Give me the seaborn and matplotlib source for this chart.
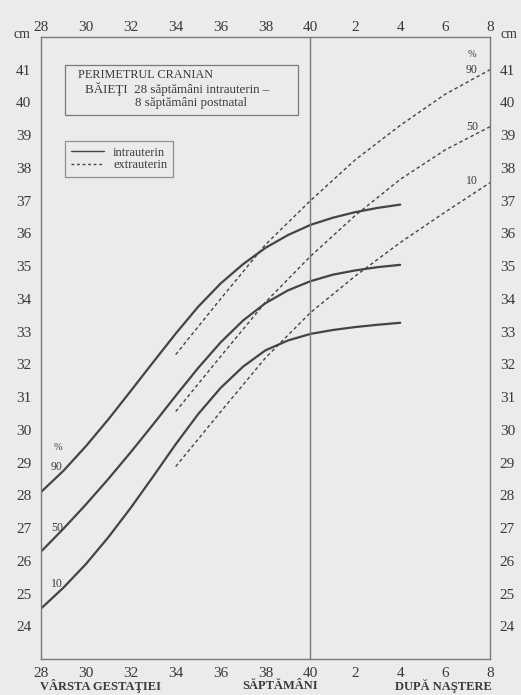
import numpy as np
import pandas as pd
import seaborn as sns
import matplotlib
matplotlib.use("Agg")
import matplotlib.pyplot as plt
from matplotlib.patches import Rectangle
from matplotlib.lines import Line2D

# ---------------- data ----------------
weeks_intra = [28, 29, 30, 31, 32, 33, 34, 35, 36, 37, 38, 39, 40, 41, 42, 43, 44]
p90_intra = [28.1, 28.75, 29.5, 30.32, 31.19, 32.07, 32.94, 33.76, 34.47, 35.06, 35.56, 35.95, 36.26, 36.48, 36.65, 36.78, 36.88]
p50_intra = [26.28, 26.98, 27.72, 28.5, 29.32, 30.17, 31.04, 31.89, 32.67, 33.34, 33.87, 34.26, 34.54, 34.74, 34.87, 34.97, 35.04]
p10_intra = [24.54, 25.18, 25.9, 26.72, 27.62, 28.58, 29.56, 30.48, 31.28, 31.93, 32.43, 32.73, 32.93, 33.05, 33.14, 33.21, 33.27]

weeks_extra = [34, 36, 38, 40, 42, 44, 46, 48]
p90_extra = [32.3, 34.0, 35.66, 37.0, 38.25, 39.3, 40.25, 41.0]
p50_extra = [30.56, 32.24, 33.9, 35.3, 36.55, 37.65, 38.55, 39.26]
p10_extra = [28.88, 30.55, 32.2, 33.58, 34.7, 35.72, 36.65, 37.55]

x_ticks = [28, 30, 32, 34, 36, 38, 40, 42, 44, 46, 48]
x_ticklabels = ["28", "30", "32", "34", "36", "38", "40", "2", "4", "6", "8"]
y_ticks = list(range(24, 42))

title_lines = ["PERIMETRUL CRANIAN",
               "BĂIEŢI  28 săptămâni intrauterin –",
               "8 săptămâni postnatal"]
legend_labels = ["intrauterin", "extrauterin"]
bottom_labels = ["VÂRSTA GESTAŢIEI", "SĂPTĂMÂNI", "DUPĂ NAŞTERE"]
pct_labels = ["90", "50", "10"]

# ---------------- style ----------------
sns.set_theme(style="white")
plt.rcParams["font.family"] = ["Liberation Serif", "DejaVu Serif"]
BG = "#ebebeb"
INK = "#3a3a3a"
LINE = "#444444"
FRAME = "#7a7a7a"

fig = plt.figure(figsize=(5.21, 6.95), dpi=100, facecolor=BG)
ax = fig.add_axes([41 / 521, 36 / 695, 449 / 521, 622 / 695])
ax.set_facecolor(BG)

for w, vals in [(weeks_intra, p90_intra), (weeks_intra, p50_intra), (weeks_intra, p10_intra)]:
    sns.lineplot(x=w, y=vals, ax=ax, color=LINE, lw=1.6, legend=False)
for w, vals in [(weeks_extra, p90_extra), (weeks_extra, p50_extra), (weeks_extra, p10_extra)]:
    sns.lineplot(x=w, y=vals, ax=ax, color=LINE, lw=1.0, linestyle=(0, (2.5, 2)), legend=False)

ax.axvline(40, color=FRAME, lw=1.0)

ax.set_xlim(28, 48)
ax.set_ylim(23, 42)
ax.set_xticks(x_ticks)
ax.set_xticklabels(x_ticklabels)
ax.set_yticks(y_ticks)
ax.set_yticklabels([str(v) for v in y_ticks])
ax.set_xlabel("")
ax.set_ylabel("")
ax.tick_params(axis="x", which="both", length=0, labelsize=11, colors=INK,
               labeltop=False, labelbottom=True, pad=6)
ax.tick_params(axis="y", which="both", length=0, labelsize=11, colors=INK,
               labelleft=True, labelright=True, pad=7)
for s in ax.spines.values():
    s.set_color(FRAME)
    s.set_linewidth(1.0)
    s.set_visible(True)

top = ax.secondary_xaxis("top")
top.set_xticks(x_ticks)
top.set_xticklabels(x_ticklabels)
top.tick_params(length=0, labelsize=11, colors=INK, pad=2)
top.spines["top"].set_visible(False)

# percentile labels
ax.text(28.55, 29.46, "%", fontsize=7.5, color=INK, ha="left", va="center")
for lbl, yv in zip(pct_labels, [28.88, 27.0, 25.3]):
    ax.text(28.45, yv, lbl, fontsize=8.5, color=INK, ha="left", va="center")
ax.text(47.2, 41.46, "%", fontsize=7.5, color=INK, ha="center", va="center")
for lbl, yv in zip(pct_labels, [41.0, 39.26, 37.6]):
    ax.text(47.2, yv, lbl, fontsize=8.5, color=INK, ha="center", va="center")

# title box
ax.add_patch(Rectangle((0.0535, 0.8746), 0.5189, 0.0804, transform=ax.transAxes,
                       fill=False, edgecolor=FRAME, lw=0.9))
ax.text(0.0824, 0.939, title_lines[0], transform=ax.transAxes, fontsize=8.8,
        color=INK, ha="left", va="center")
ax.text(0.098, 0.9164, title_lines[1], transform=ax.transAxes, fontsize=9.4,
        color=INK, ha="left", va="center")
ax.text(0.2094, 0.894, title_lines[2], transform=ax.transAxes, fontsize=9.4,
        color=INK, ha="left", va="center")

# legend
handles = [Line2D([], [], color=LINE, lw=1.0),
           Line2D([], [], color=LINE, lw=1.0, linestyle=(0, (2, 2)))]
leg = ax.legend(handles, legend_labels, loc="upper left",
                bbox_to_anchor=(0.0535, 0.8328), borderaxespad=0,
                frameon=True, fancybox=False, edgecolor=FRAME, facecolor=BG,
                fontsize=9, handlelength=2.7, handletextpad=0.7,
                labelspacing=0.05, borderpad=0.45)
leg.get_frame().set_linewidth(0.9)
for t in leg.get_texts():
    t.set_color(INK)

# cm labels
fig.text(22 / 521, 1 - 34 / 695, "cm", fontsize=10, color=INK, ha="center", va="center")
fig.text(509 / 521, 1 - 34 / 695, "cm", fontsize=10, color=INK, ha="center", va="center")

# bottom labels
for lbl, xc in zip(bottom_labels, [100, 280, 443]):
    fig.text(xc / 521, 1 - 686 / 695, lbl, fontsize=9, fontweight="bold",
             color=INK, ha="center", va="center")

fig.savefig("out.png", dpi=100, facecolor=BG)
